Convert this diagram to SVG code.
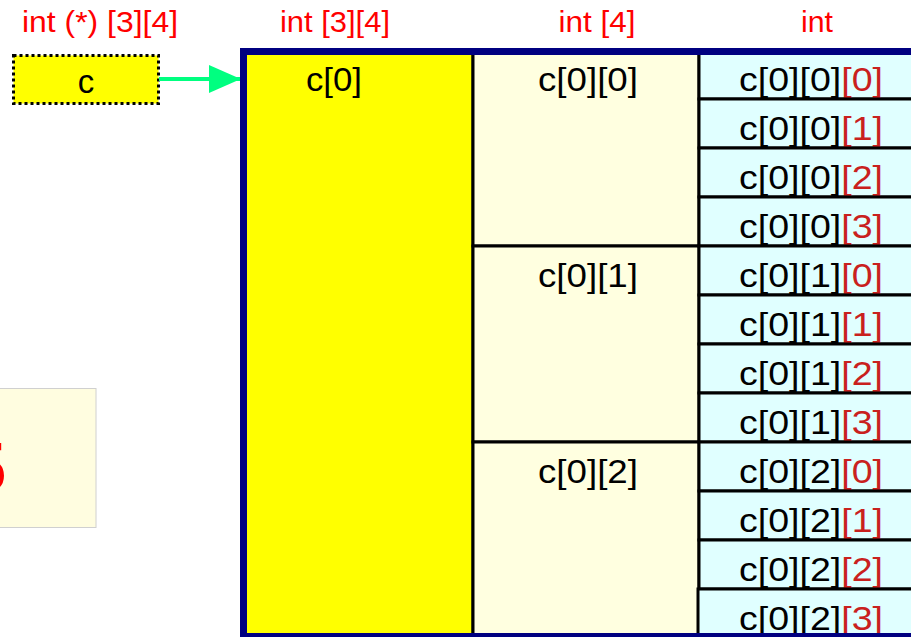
<svg xmlns="http://www.w3.org/2000/svg" width="911" height="637" viewBox="0 0 911 637">
<defs>
<style>
text{font-family:"Liberation Sans",Arial,sans-serif;}
.lbl{fill:#ff0000;font-size:29px;text-anchor:middle;}
.cell{font-size:33px;text-anchor:middle;fill:#000;}
.idx{fill:#c9211e;}
.cy{fill:#e0ffff;stroke:#000;stroke-width:3;}
.cr{fill:#ffffe0;stroke:#000;stroke-width:3;}
</style>
<marker id="ah" markerWidth="8" markerHeight="7" refX="7.8" refY="3.5" orient="auto" markerUnits="strokeWidth">
<path d="M0,0 L8,3.5 L0,7 Z" fill="#00ff80"/>
</marker>
</defs>
<rect width="911" height="637" fill="#fff"/>

<g id="types">
<text class="lbl" x="100" y="32" textLength="156" lengthAdjust="spacingAndGlyphs">int (*) [3][4]</text>
<text class="lbl" x="335" y="32" textLength="110" lengthAdjust="spacingAndGlyphs">int [3][4]</text>
<text class="lbl" x="597" y="32" textLength="77" lengthAdjust="spacingAndGlyphs">int [4]</text>
<text class="lbl" x="817" y="32" textLength="32" lengthAdjust="spacingAndGlyphs">int</text>
</g>

<g id="note">
<rect x="-20" y="388.5" width="116" height="139" fill="#fffde0" stroke="#d0d0d0" stroke-width="1"/>
<text x="6" y="492" font-size="70" font-weight="bold" fill="#ff0000" text-anchor="end">5</text>
</g>

<g id="ptr">
<rect x="13.5" y="55.5" width="145" height="48" fill="#ffff00" stroke="#000" stroke-width="3" stroke-dasharray="3,3"/>
<text class="cell" x="86" y="93" font-size="34">c</text>
</g>

<g id="connectors">
<line x1="159" y1="79" x2="240" y2="79" stroke="#00ff80" stroke-width="4" marker-end="url(#ah)"/>
</g>

<g id="c0">
<rect x="245" y="50" width="228" height="590" fill="#ffff00" stroke="#000" stroke-width="3"/>
<text class="cell" x="334" y="91" textLength="56" lengthAdjust="spacingAndGlyphs">c[0]</text>
</g>

<g id="c00">
<rect class="cr" x="473" y="50" width="226" height="196"/>
<text class="cell" x="588" y="91" textLength="100" lengthAdjust="spacingAndGlyphs">c[0][0]</text>
</g>
<g id="c01">
<rect class="cr" x="473" y="246" width="226" height="196"/>
<text class="cell" x="588" y="287" textLength="100" lengthAdjust="spacingAndGlyphs">c[0][1]</text>
</g>
<g id="c02">
<rect class="cr" x="473" y="442" width="226" height="200"/>
<text class="cell" x="588" y="483" textLength="100" lengthAdjust="spacingAndGlyphs">c[0][2]</text>
</g>

<g id="c000"><rect class="cy" x="699" y="50" width="230" height="49"/><text class="cell" x="811" y="91" textLength="144" lengthAdjust="spacingAndGlyphs">c[0][0]<tspan class="idx">[0]</tspan></text></g>
<g id="c001"><rect class="cy" x="699" y="99" width="230" height="49"/><text class="cell" x="811" y="140" textLength="144" lengthAdjust="spacingAndGlyphs">c[0][0]<tspan class="idx">[1]</tspan></text></g>
<g id="c002"><rect class="cy" x="699" y="148" width="230" height="49"/><text class="cell" x="811" y="189" textLength="144" lengthAdjust="spacingAndGlyphs">c[0][0]<tspan class="idx">[2]</tspan></text></g>
<g id="c003"><rect class="cy" x="699" y="197" width="230" height="49"/><text class="cell" x="811" y="238" textLength="144" lengthAdjust="spacingAndGlyphs">c[0][0]<tspan class="idx">[3]</tspan></text></g>
<g id="c010"><rect class="cy" x="699" y="246" width="230" height="49"/><text class="cell" x="811" y="287" textLength="144" lengthAdjust="spacingAndGlyphs">c[0][1]<tspan class="idx">[0]</tspan></text></g>
<g id="c011"><rect class="cy" x="699" y="295" width="230" height="49"/><text class="cell" x="811" y="336" textLength="144" lengthAdjust="spacingAndGlyphs">c[0][1]<tspan class="idx">[1]</tspan></text></g>
<g id="c012"><rect class="cy" x="699" y="344" width="230" height="49"/><text class="cell" x="811" y="385" textLength="144" lengthAdjust="spacingAndGlyphs">c[0][1]<tspan class="idx">[2]</tspan></text></g>
<g id="c013"><rect class="cy" x="699" y="393" width="230" height="49"/><text class="cell" x="811" y="434" textLength="144" lengthAdjust="spacingAndGlyphs">c[0][1]<tspan class="idx">[3]</tspan></text></g>
<g id="c020"><rect class="cy" x="699" y="442" width="230" height="49"/><text class="cell" x="811" y="483" textLength="144" lengthAdjust="spacingAndGlyphs">c[0][2]<tspan class="idx">[0]</tspan></text></g>
<g id="c021"><rect class="cy" x="699" y="491" width="230" height="49"/><text class="cell" x="811" y="532" textLength="144" lengthAdjust="spacingAndGlyphs">c[0][2]<tspan class="idx">[1]</tspan></text></g>
<g id="c022"><rect class="cy" x="699" y="540" width="230" height="49"/><text class="cell" x="811" y="581" textLength="144" lengthAdjust="spacingAndGlyphs">c[0][2]<tspan class="idx">[2]</tspan></text></g>
<g id="c023"><rect class="cy" x="698" y="589" width="230" height="49"/><text class="cell" x="811" y="630" textLength="144" lengthAdjust="spacingAndGlyphs">c[0][2]<tspan class="idx">[3]</tspan></text></g>

<g id="frame">
<rect x="243.5" y="51.5" width="760" height="585" fill="none" stroke="#000080" stroke-width="7"/>
</g>
</svg>
